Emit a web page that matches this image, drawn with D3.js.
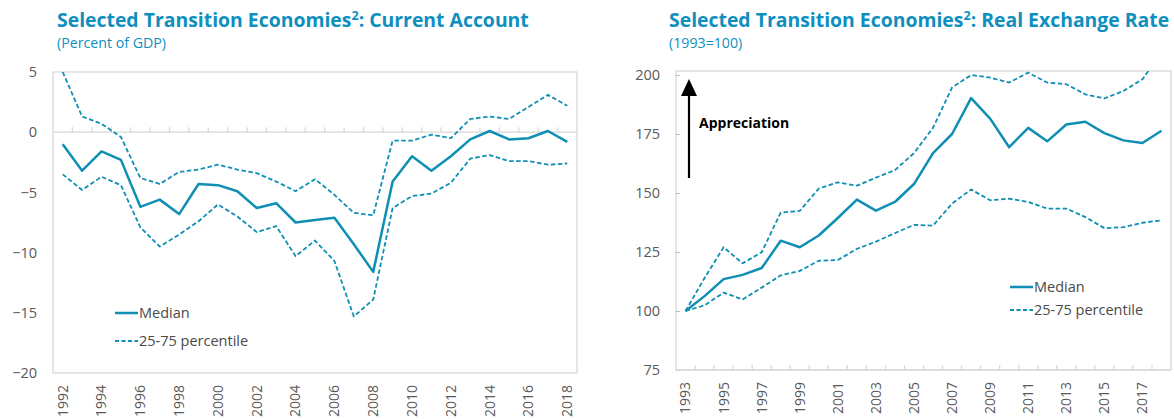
<html lang='en'>
	<head>
		<title>Selected Transition Economies</title>
		<script src="https://d3js.org/d3.v7.min.js" charset="utf-8"></script>
		<style type="text/css">
			body{
				margin: 0;
				background: white;
				font-family: "Open Sans", sans-serif;
			}
			.title{
				font-weight: 700;
				fill: #0e8fbf;
			}
			.subtitle{
				fill: #0e8fbf;
			}
			.tick text{
				fill: #595959;
			}
		</style>
	</head>
	<body>
		<div class="main"></div>
		<script>

			// current account, percent of GDP
			var caYears = [1992,1993,1994,1995,1996,1997,1998,1999,2000,2001,2002,2003,2004,2005,2006,2007,2008,2009,2010,2011,2012,2013,2014,2015,2016,2017,2018]
			var caMedian = [-1.0,-3.2,-1.6,-2.3,-6.2,-5.6,-6.8,-4.3,-4.4,-4.9,-6.3,-5.9,-7.5,-7.3,-7.1,-9.3,-11.6,-4.1,-2.0,-3.2,-2.0,-0.6,0.1,-0.6,-0.5,0.1,-0.8]
			var caP75 = [5.0,1.3,0.7,-0.4,-3.8,-4.3,-3.3,-3.1,-2.7,-3.1,-3.4,-4.1,-4.9,-3.9,-5.2,-6.7,-6.9,-0.7,-0.7,-0.2,-0.5,1.1,1.3,1.1,2.1,3.1,2.2]
			var caP25 = [-3.5,-4.8,-3.7,-4.4,-7.9,-9.5,-8.5,-7.4,-6.0,-7.0,-8.3,-7.8,-10.3,-9.0,-10.7,-15.3,-13.9,-6.3,-5.3,-5.1,-4.2,-2.2,-1.9,-2.4,-2.4,-2.7,-2.6]
			var caTicks = [5, 0, -5, -10, -15, -20]
			var caYearLabels = [1992,1994,1996,1998,2000,2002,2004,2006,2008,2010,2012,2014,2016,2018]

			// real exchange rate, 1993=100
			var rerYears = [1993,1994,1995,1996,1997,1998,1999,2000,2001,2002,2003,2004,2005,2006,2007,2008,2009,2010,2011,2012,2013,2014,2015,2016,2017,2018]
			var rerMedian = [100,106.3,113.5,115.3,118.2,129.8,127.0,132.0,139.4,147.2,142.5,146.2,153.8,166.9,175.0,190.2,181.5,169.4,177.6,171.9,179.0,180.2,175.4,172.3,171.2,176.4]
			var rerP75 = [100,114,127.0,120.2,124.9,141.7,142.4,151.9,154.5,153.1,156.5,159.7,166.9,177.6,194.7,200.0,198.9,196.8,201.0,196.8,196.1,191.8,190.1,193.2,198.2,209.5]
			var rerP25 = [100,102.4,107.8,104.9,109.9,115.1,117.0,121.3,121.6,126.3,129.4,133.0,136.5,136.2,145.5,151.5,146.9,147.6,146.2,143.4,143.4,139.8,135.1,135.5,137.4,138.4]
			var rerTicks = [200, 175, 150, 125, 100, 75]
			var rerYearLabels = [1993,1995,1997,1999,2001,2003,2005,2007,2009,2011,2013,2015,2017]

			var width = 1174
			var height = 419
			var teal = "#0e8fb3"
			var grey = "#d9d9d9"

			var svg = d3.select(".main")
				.append("svg")
				.attr("width", width)
				.attr("height", height)

			function panel(p){
				var g = svg.append("g")

				g.append("text")
					.attr("class", "title")
					.attr("x", p.titleX)
					.attr("y", 27)
					.style("font-size", "19.4px")
					.text(p.title[0])
					.append("tspan")
					.attr("dy", -7)
					.style("font-size", "12.5px")
					.text("2")
					.append("tspan")
					.attr("dy", 7)
					.style("font-size", "19.4px")
					.text(p.title[1])

				g.append("text")
					.attr("class", "subtitle")
					.attr("x", p.titleX)
					.attr("y", 48)
					.style("font-size", "14.2px")
					.text(p.subtitle)

				var x = d3.scaleBand()
					.domain(p.years)
					.range([p.left, p.right])
					.padding(0)

				var y = d3.scaleLinear()
					.domain(p.domain)
					.range([p.bottom, p.top])

				// plot area border
				g.append("rect")
					.attr("x", p.left)
					.attr("y", p.boxTop)
					.attr("width", p.right - p.left)
					.attr("height", p.bottom - p.boxTop)
					.attr("fill", "none")
					.attr("stroke", grey)
					.attr("stroke-width", 1.3)

				// y axis labels
				var yAxis = g.append("g")
					.attr("transform", "translate(" + p.left + ",0)")
					.call(d3.axisLeft(y).tickValues(p.ticks).tickSize(p.yTick).tickPadding(16 - p.yTick))
				yAxis.select(".domain").remove()
				yAxis.selectAll("line")
					.attr("stroke", "#bfbfbf")
					.attr("transform", "translate(" + p.yTick + ",0)")
				yAxis.selectAll("text")
					.style("font-size", "14.5px")
					.style("font-family", "Open Sans, sans-serif")

				// category axis: tick marks at band edges
				var yBase = y(p.base)
				g.append("line")
					.attr("x1", p.left)
					.attr("x2", p.right)
					.attr("y1", yBase)
					.attr("y2", yBase)
					.attr("stroke", grey)
					.attr("stroke-width", 1.3)
				g.selectAll(".edge")
					.data(p.years.slice(1))
					.enter()
					.append("line")
					.attr("x1", function(d){ return x(d) })
					.attr("x2", function(d){ return x(d) })
					.attr("y1", yBase)
					.attr("y2", yBase - 5)
					.attr("stroke", grey)
					.attr("stroke-width", 1.3)

				var xAxis = g.append("g")
					.attr("transform", "translate(0," + p.bottom + ")")
					.call(d3.axisBottom(x).tickValues(p.yearLabels).tickSize(0).tickPadding(0))
				xAxis.select(".domain").remove()
				xAxis.selectAll("text")
					.attr("transform", "rotate(-90)")
					.attr("x", -12)
					.attr("y", 0)
					.attr("dy", "0.35em")
					.style("text-anchor", "end")
					.style("font-size", "14px")
					.style("font-family", "Open Sans, sans-serif")

				var clipId = "clip" + p.titleX
				svg.append("clipPath")
					.attr("id", clipId)
					.append("rect")
					.attr("x", p.left)
					.attr("y", p.boxTop)
					.attr("width", p.right - p.left)
					.attr("height", p.bottom - p.boxTop)

				var line = d3.line()
					.x(function(d, i){ return x(p.years[i]) + x.bandwidth() / 2 })
					.y(function(d){ return y(d) })

				var series = [
					{values: p.p75, dash: "4.5,2.5", w: 1.8},
					{values: p.p25, dash: "4.5,2.5", w: 1.8},
					{values: p.median, dash: null, w: 2.5}
				]
				g.append("g")
					.attr("clip-path", "url(#" + clipId + ")")
					.selectAll("path")
					.data(series)
					.enter()
					.append("path")
					.attr("d", function(d){ return line(d.values) })
					.attr("fill", "none")
					.attr("stroke", teal)
					.attr("stroke-width", function(d){ return d.w })
					.attr("stroke-dasharray", function(d){ return d.dash })
					.attr("stroke-linejoin", "round")

				// legend
				var legend = g.append("g")
				var items = [["Median", null, 2.5], ["25-75 percentile", "4,2.5", 1.8]]
				items.forEach(function(it, i){
					var ly = p.legendY + i * p.legendGap
					legend.append("line")
						.attr("x1", p.legendX)
						.attr("x2", p.legendX + 23)
						.attr("y1", ly)
						.attr("y2", ly)
						.attr("stroke", teal)
						.attr("stroke-width", it[2])
						.attr("stroke-dasharray", it[1])
					legend.append("text")
						.attr("x", p.legendX + 24)
						.attr("y", ly)
						.attr("dy", "0.35em")
						.attr("fill", "#4a4a4a")
						.style("font-size", "14.5px")
						.text(it[0])
				})
				return g
			}

			panel({
				title: ["Selected Transition Economies", ": Current Account"],
				subtitle: "(Percent of GDP)",
				titleX: 57,
				years: caYears, median: caMedian, p75: caP75, p25: caP25,
				ticks: caTicks, yearLabels: caYearLabels,
				domain: [-20, 5], base: 0,
				left: 53, right: 577, top: 72, boxTop: 72, bottom: 373,
				yTick: 0,
				legendX: 115, legendY: 313, legendGap: 28
			})

			var rer = panel({
				title: ["Selected Transition Economies", ": Real Exchange Rate"],
				subtitle: "(1993=100)",
				titleX: 669,
				years: rerYears, median: rerMedian, p75: rerP75, p25: rerP25,
				ticks: rerTicks, yearLabels: rerYearLabels,
				domain: [75, 200], base: 75,
				left: 676, right: 1171, top: 75, boxTop: 71, bottom: 370,
				yTick: 4,
				legendX: 1010, legendY: 287, legendGap: 23
			})

			// appreciation arrow
			svg.append("line")
				.attr("x1", 689)
				.attr("x2", 689)
				.attr("y1", 178)
				.attr("y2", 92)
				.attr("stroke", "black")
				.attr("stroke-width", 2.2)
			svg.append("path")
				.attr("d", d3.line()([[681, 96], [697, 96], [689, 79]]))
				.attr("fill", "black")
			svg.append("text")
				.attr("x", 699)
				.attr("y", 128)
				.attr("fill", "black")
				.style("font-size", "14px")
				.style("font-weight", "700")
				.text("Appreciation")
		</script>
	</body>
</html>
